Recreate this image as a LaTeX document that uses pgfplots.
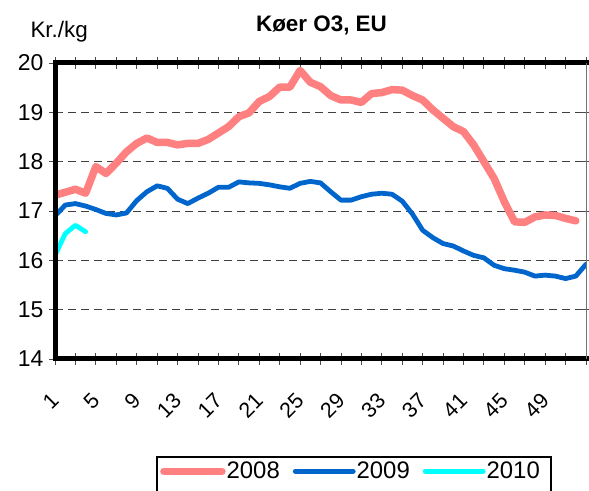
\documentclass[border=0pt]{standalone}
\usepackage{fontspec}
\setmainfont{Liberation Sans}
\usepackage{pgfplots}
\pgfplotsset{compat=1.18}
\definecolor{c08}{HTML}{FF8080}
\definecolor{c09}{HTML}{0066CC}
\definecolor{c10}{HTML}{00FFFF}
\definecolor{gridc}{HTML}{404040}
\begin{document}
\begin{tikzpicture}[x=1bp,y=1bp]
\useasboundingbox (0,0) rectangle (589,491);
\begin{axis}[
  name=ax,
  at={(55bp,132bp)}, anchor=south west,
  scale only axis, width=531bp, height=296bp,
  xmin=1, xmax=53, ymin=14, ymax=20,
  ytick={14,...,20},
  xtick={1,3,...,53},
  xticklabels={1,,5,,9,,13,,17,,21,,25,,29,,33,,37,,41,,45,,49,,},
  ymajorgrids,
  grid style={gridc, line width=0.8bp, dash pattern=on 8bp off 5bp},
  axis line style={draw=none},
  tick align=center, major tick length=12bp,
  tick style={black!70, line width=0.8bp},
  /pgf/number format/assume math mode=true,
  tick label style={font=\fontsize{23}{26}\selectfont},
  xticklabel shift=32bp,
  xticklabel style={rotate=45, anchor=east, inner sep=0pt,
    font=\fontsize{21.5}{24}\selectfont},
  yticklabel style={xshift=-2bp},
  legend columns=3,
  legend style={name=leg, at={(0.192,-0.331)}, anchor=north west, draw=none,
    font=\fontsize{24}{27}\selectfont, inner xsep=3bp, inner ysep=3bp,
    /tikz/every even column/.append style={column sep=12bp},
    nodes={inner xsep=1bp}},
  legend image code/.code={\draw[#1, line cap=round] (0bp,0bp) -- (58bp,0bp);},
  every axis plot/.append style={line join=round, line cap=round},
]
\addplot[c08, line width=7.5bp] coordinates {
(1,17.32)(2,17.38)(3,17.44)(4,17.36)(5,17.90)(6,17.76)(7,17.97)(8,18.20)(9,18.37)(10,18.48)
(11,18.39)(12,18.39)(13,18.34)(14,18.37)(15,18.37)(16,18.45)(17,18.58)(18,18.71)(19,18.91)(20,18.99)
(21,19.22)(22,19.32)(23,19.51)(24,19.51)(25,19.85)(26,19.61)(27,19.52)(28,19.34)(29,19.25)(30,19.25)
(31,19.20)(32,19.38)(33,19.40)(34,19.46)(35,19.45)(36,19.34)(37,19.25)(38,19.05)(39,18.88)(40,18.71)
(41,18.61)(42,18.34)(43,18.00)(44,17.66)(45,17.19)(46,16.78)(47,16.77)(48,16.88)(49,16.92)(50,16.91)
(51,16.85)(52,16.80)};
\addlegendentry{2008}
\addplot[c09, line width=4.8bp] coordinates {
(1,16.90)(2,17.12)(3,17.15)(4,17.10)(5,17.03)(6,16.95)(7,16.92)(8,16.96)(9,17.21)(10,17.39)
(11,17.51)(12,17.46)(13,17.24)(14,17.15)(15,17.26)(16,17.36)(17,17.48)(18,17.48)(19,17.59)(20,17.57)
(21,17.56)(22,17.53)(23,17.49)(24,17.46)(25,17.56)(26,17.60)(27,17.57)(28,17.39)(29,17.22)(30,17.22)
(31,17.29)(32,17.34)(33,17.36)(34,17.34)(35,17.20)(36,16.94)(37,16.61)(38,16.46)(39,16.34)(40,16.29)
(41,16.19)(42,16.10)(43,16.05)(44,15.90)(45,15.83)(46,15.80)(47,15.76)(48,15.68)(49,15.70)(50,15.68)
(51,15.63)(52,15.68)(53,15.92)};
\addlegendentry{2009}
\addplot[c10, line width=4.8bp] coordinates {
(1,16.10)(2,16.54)(3,16.71)(4,16.58)};
\addlegendentry{2010}
\end{axis}
\draw[line width=5bp, line cap=rect] (ax.north east) -- (ax.north west) -- (ax.south west) -- (ax.south east);
\draw[black!55, line width=1bp] (ax.south east) -- (ax.north east);
\draw[line width=1.3bp] (leg.north west) rectangle ([shift={(394bp,-50bp)}]leg.north west);
\node[anchor=base, font=\fontsize{22.5}{26}\selectfont\bfseries] at (321.5,459.3) {Køer O3, EU};
\node[anchor=base west, font=\fontsize{22.5}{26}\selectfont] at (27,453.3) {Kr./kg};
\end{tikzpicture}
\end{document}
